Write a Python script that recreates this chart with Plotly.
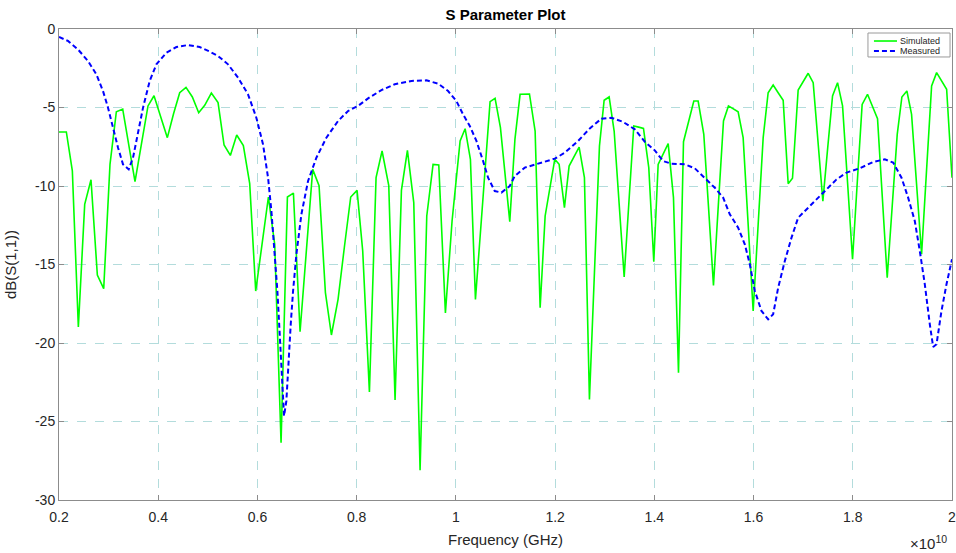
import plotly.graph_objects as go

# Frequency in units of 1e10 Hz (as shown on the axis with the x10^10 multiplier)
sim_freq = [0.2000, 0.2148, 0.2269, 0.2390, 0.2518, 0.2645, 0.2773, 0.2901, 0.3028, 0.3156,
            0.3284, 0.3408, 0.3532, 0.3663, 0.3794, 0.3915, 0.4050, 0.4184, 0.4309, 0.4433,
            0.4560, 0.4688, 0.4816, 0.4937, 0.5071, 0.5206, 0.5327, 0.5454, 0.5582, 0.5716,
            0.5844, 0.5965, 0.6093, 0.6221, 0.6348, 0.6476, 0.6604, 0.6725, 0.6859, 0.6987,
            0.7114, 0.7242, 0.7370, 0.7491, 0.7625, 0.7752, 0.7880, 0.8008, 0.8122, 0.8257,
            0.8391, 0.8512, 0.8647, 0.8774, 0.8902, 0.9023, 0.9151, 0.9278, 0.9413, 0.9540,
            0.9655, 0.9789, 0.9923, 1.0085, 1.0186, 1.0293, 1.0394, 1.0541, 1.0689, 1.0790,
            1.0898, 1.1086, 1.1190, 1.1294, 1.1390, 1.1483, 1.1597, 1.1698, 1.1799, 1.1896,
            1.1993, 1.2081, 1.2188, 1.2282, 1.2383, 1.2484, 1.2591, 1.2692, 1.2793, 1.2894,
            1.2988, 1.3089, 1.3190, 1.3291, 1.3392, 1.3489, 1.3586, 1.3684, 1.3781, 1.3888,
            1.3989, 1.4077, 1.4178, 1.4279, 1.4386, 1.4487, 1.4588, 1.4692, 1.4796, 1.4883,
            1.4997, 1.5095, 1.5192, 1.5293, 1.5394, 1.5494, 1.5592, 1.5689, 1.5790, 1.5891,
            1.5992, 1.6093, 1.6194, 1.6294, 1.6395, 1.6496, 1.6597, 1.6698, 1.6785, 1.6899,
            1.7000, 1.7101, 1.7202, 1.7300, 1.7397, 1.7495, 1.7592, 1.7693, 1.7794, 1.7895,
            1.7995, 1.8092, 1.8189, 1.8297, 1.8398, 1.8499, 1.8597, 1.8694, 1.8795, 1.8896,
            1.8990, 1.9091, 1.9185, 1.9286, 1.9387, 1.9488, 1.9589, 1.9690, 1.9791, 1.9892,
            2.0000]
sim_db = [-6.56, -6.56, -9.04, -18.98, -11.17, -9.60, -15.67, -16.54, -8.62, -5.27,
          -5.10, -7.30, -9.72, -7.30, -4.90, -4.25, -5.60, -6.92, -5.40, -4.06,
          -3.72, -4.33, -5.33, -4.86, -4.08, -4.69, -7.39, -8.05, -6.75, -7.43,
          -9.85, -16.69, -13.70, -10.70, -13.72, -26.35, -10.70, -10.45, -19.28, -14.14,
          -8.94, -9.98, -16.79, -19.49, -17.22, -13.90, -10.70, -10.28, -14.14, -23.12,
          -9.47, -7.77, -9.98, -23.63, -10.28, -7.73, -11.06, -28.11, -11.91, -8.62,
          -8.66, -18.09, -12.23, -7.13, -6.35, -8.30, -17.22, -11.00, -4.63, -4.42,
          -6.28, -12.27, -7.03, -4.16, -4.15, -4.14, -6.50, -17.75, -11.91, -10.10,
          -8.30, -8.62, -11.38, -8.73, -8.10, -7.52, -9.47, -23.59, -15.50, -7.45,
          -4.54, -4.33, -6.50, -11.20, -15.80, -10.96, -6.18, -6.25, -6.33, -8.83,
          -14.82, -8.62, -8.00, -7.30, -10.74, -21.89, -7.18, -5.86, -4.59, -4.59,
          -6.71, -11.49, -16.33, -11.06, -5.86, -4.90, -5.08, -5.27, -6.92, -12.44,
          -17.96, -12.44, -6.92, -4.06, -3.57, -4.06, -4.54, -9.85, -9.51, -3.89,
          -3.35, -2.82, -3.42, -7.13, -10.96, -7.56, -4.27, -3.42, -4.90, -9.79,
          -14.67, -9.70, -4.80, -4.16, -4.90, -5.71, -10.80, -15.84, -11.27, -6.71,
          -4.33, -3.95, -5.44, -9.90, -14.35, -8.94, -3.63, -2.78, -3.31, -3.84,
          -9.47]

meas_freq = [0.2000, 0.2181, 0.2383, 0.2585, 0.2753, 0.2887, 0.2988, 0.3089, 0.3190, 0.3290,
             0.3405, 0.3492, 0.3593, 0.3694, 0.3828, 0.3963, 0.4164, 0.4366, 0.4601, 0.4836,
             0.5038, 0.5206, 0.5407, 0.5609, 0.5810, 0.5978, 0.6113, 0.6214, 0.6281, 0.6348,
             0.6402, 0.6449, 0.6496, 0.6536, 0.6583, 0.6617, 0.6671, 0.6718, 0.6785, 0.6886,
             0.7020, 0.7188, 0.7390, 0.7625, 0.7827, 0.8028, 0.8230, 0.8499, 0.8768, 0.9104,
             0.9406, 0.9641, 0.9843, 1.0011, 1.0145, 1.0280, 1.0414, 1.0548, 1.0649, 1.0783,
             1.0918, 1.1086, 1.1187, 1.1388, 1.1657, 1.1993, 1.2195, 1.2464, 1.2699, 1.2934,
             1.3136, 1.3371, 1.3606, 1.3808, 1.4009, 1.4177, 1.4345, 1.4614, 1.4815, 1.5017,
             1.5219, 1.5387, 1.5521, 1.5689, 1.5824, 1.5925, 1.6026, 1.6160, 1.6294, 1.6395,
             1.6496, 1.6630, 1.6765, 1.6899, 1.7135, 1.7403, 1.7672, 1.7873, 1.8142, 1.8411,
             1.8646, 1.8814, 1.8982, 1.9116, 1.9250, 1.9351, 1.9452, 1.9553, 1.9620, 1.9688,
             1.9788, 1.9889, 2.0000]
meas_db = [-0.51, -0.76, -1.30, -2.04, -2.89, -3.95, -5.01, -6.28, -7.56, -8.62,
           -8.94, -8.20, -6.50, -5.01, -3.31, -2.25, -1.51, -1.15, -1.02, -1.15,
           -1.44, -1.72, -2.25, -3.10, -4.16, -5.65, -7.35, -9.47, -11.59, -14.14,
           -16.69, -19.45, -22.21, -24.65, -23.69, -21.57, -18.81, -16.69, -14.35, -11.80,
           -9.68, -8.20, -6.92, -5.86, -5.22, -4.90, -4.42, -3.89, -3.52, -3.31,
           -3.27, -3.48, -3.95, -4.59, -5.44, -6.18, -7.13, -8.41, -9.47, -10.32,
           -10.42, -10.00, -9.36, -8.83, -8.58, -8.26, -7.88, -7.13, -6.33, -5.71,
           -5.65, -5.92, -6.39, -7.18, -7.73, -8.41, -8.58, -8.62, -8.87, -9.47,
           -10.11, -10.74, -11.80, -12.65, -13.72, -14.99, -16.69, -17.96, -18.49, -18.17,
           -16.48, -14.78, -13.29, -12.02, -11.27, -10.42, -9.58, -9.15, -8.87, -8.47,
           -8.30, -8.51, -9.47, -10.74, -12.23, -14.14, -16.26, -18.81, -20.25, -20.08,
           -17.96, -16.26, -14.67]

x_ticks = [0.2, 0.4, 0.6, 0.8, 1.0, 1.2, 1.4, 1.6, 1.8, 2.0]
x_tick_labels = ["0.2", "0.4", "0.6", "0.8", "1", "1.2", "1.4", "1.6", "1.8", "2"]
y_ticks = [0, -5, -10, -15, -20, -25, -30]
y_tick_labels = ["0", "-5", "-10", "-15", "-20", "-25", "-30"]
series_names = ["Simulated", "Measured"]
series_colors = ["#00ff00", "#0000ff"]

FONT = "Liberation Sans, Arial, sans-serif"
GRID = "#b3dcdc"
AXIS = "#8c8c8c"
TXT = "#262626"
DASH = "5px,3px"

fig = go.Figure()
fig.add_trace(go.Scatter(x=sim_freq, y=sim_db, mode="lines", name=series_names[0],
                         line=dict(color=series_colors[0], width=1.6)))
fig.add_trace(go.Scatter(x=meas_freq, y=meas_db, mode="lines", name=series_names[1],
                         line=dict(color=series_colors[1], width=2, dash=DASH)))

fig.update_layout(
    width=956, height=553,
    margin=dict(l=59, r=4, t=29, b=53, autoexpand=False),
    paper_bgcolor="white", plot_bgcolor="white",
    font=dict(family=FONT, color=TXT, size=14),
    title=dict(text="<b>S Parameter Plot</b>", x=0.5, xref="paper", xanchor="center",
               y=1, yref="container", yanchor="top", pad=dict(t=9),
               font=dict(size=15, color="black", family=FONT)),
    showlegend=False,
)
fig.update_xaxes(range=[0.2, 2.0], tickvals=x_ticks, ticktext=x_tick_labels,
                 automargin=False,
                 showgrid=True, gridcolor=GRID, griddash="dash", gridwidth=1,
                 zeroline=False, showline=True, linecolor=AXIS, linewidth=1, mirror="allticks",
                 ticks="inside", ticklen=5, tickcolor=AXIS, ticklabelstandoff=4,
                 ticklabeloverflow="allow",
                 tickfont=dict(size=14, color=TXT),
                 title=dict(text="Frequency (GHz)", font=dict(size=15, color=TXT), standoff=10))
fig.update_yaxes(range=[-30, 0], tickvals=y_ticks, ticktext=y_tick_labels,
                 automargin=False,
                 showgrid=True, gridcolor=GRID, griddash="dash", gridwidth=1,
                 zeroline=False, showline=True, linecolor=AXIS, linewidth=1, mirror="allticks",
                 ticks="inside", ticklen=5, tickcolor=AXIS,
                 tickfont=dict(size=14, color=TXT),
                 title=dict(text="dB(S(1,1))", font=dict(size=15, color=TXT), standoff=14))

# compact MATLAB-style legend box in the top-right corner
fig.add_shape(type="rect", xref="paper", yref="paper", x0=0.9059, x1=0.9978, y0=0.9406, y1=0.9915,
              line=dict(color="#9a9a9a", width=1), fillcolor="white", layer="above")
leg_y = [0.9745, 0.9533]
for i in range(2):
    fig.add_shape(type="line", xref="paper", yref="paper", x0=0.9126, x1=0.9384,
                  y0=leg_y[i], y1=leg_y[i], layer="above",
                  line=dict(color=series_colors[i], width=1.6 if i == 0 else 2,
                            dash="solid" if i == 0 else DASH))
    fig.add_annotation(text=series_names[i], xref="paper", yref="paper", x=0.9395, y=leg_y[i],
                       xanchor="left", yanchor="middle", showarrow=False,
                       font=dict(size=9, color=TXT, family=FONT))

fig.add_annotation(text="\u00d710<sup>10</sup>", xref="paper", yref="paper",
                   x=1.0, y=0, xanchor="right", yanchor="top", yshift=-31, xshift=-3,
                   showarrow=False, font=dict(size=15, color=TXT, family=FONT))

fig.write_html("out.html", config={"displayModeBar": False},
               post_script="document.body.style.margin='0';document.body.style.overflow='hidden';")
